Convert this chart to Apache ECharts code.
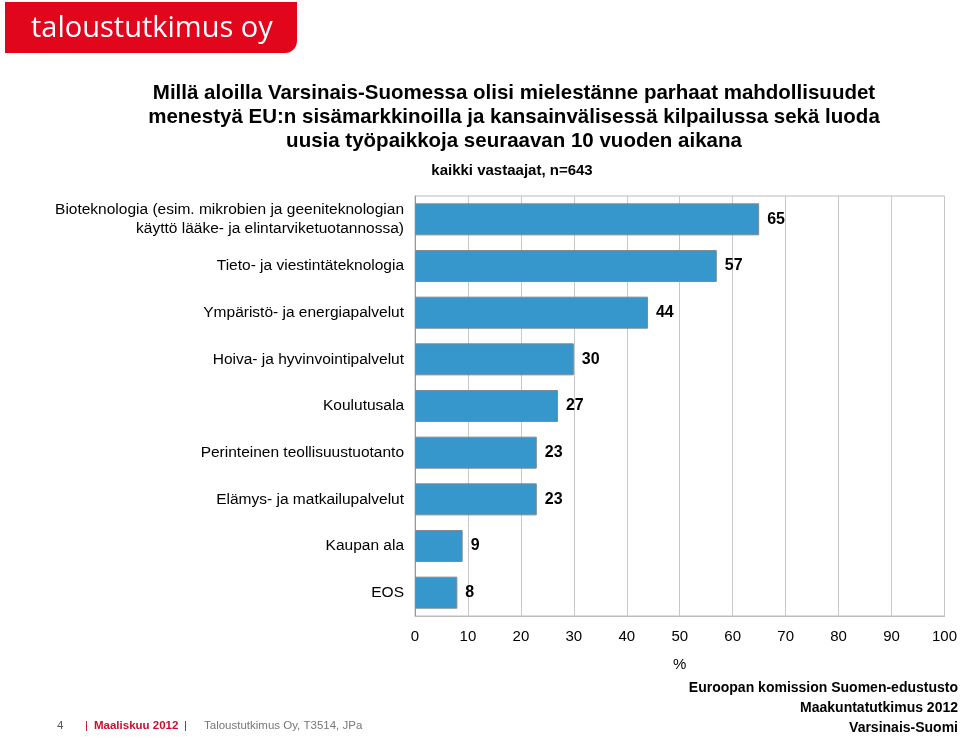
<!DOCTYPE html>
<html><head><meta charset="utf-8">
<script src="https://cdn.jsdelivr.net/npm/echarts@6/dist/echarts.min.js"></script>
<style>html,body{margin:0;padding:0;background:#fff}#c{width:960px;height:737px}</style>
</head><body><div id="c"></div>
<script>
var categories = [
  "Bioteknologia (esim. mikrobien ja geeniteknologian\nkäyttö lääke- ja elintarviketuotannossa)",
  "Tieto- ja viestintäteknologia",
  "Ympäristö- ja energiapalvelut",
  "Hoiva- ja hyvinvointipalvelut",
  "Koulutusala",
  "Perinteinen teollisuustuotanto",
  "Elämys- ja matkailupalvelut",
  "Kaupan ala",
  "EOS"
];
var values = [65, 57, 44, 30, 27, 23, 23, 9, 8];
var xTicks = [0, 10, 20, 30, 40, 50, 60, 70, 80, 90, 100];

var chart = echarts.init(document.getElementById('c'), null, {renderer: 'canvas'});
var F = 'Liberation Sans, Arial, sans-serif';
chart.setOption({
  animation: false,
  backgroundColor: '#fff',
  title: [{
    text: "Millä aloilla Varsinais-Suomessa olisi mielestänne parhaat mahdollisuudet\nmenestyä EU:n sisämarkkinoilla ja kansainvälisessä kilpailussa sekä luoda\nuusia työpaikkoja seuraavan 10 vuoden aikana",
    left: 509, top: 76, textAlign: 'center',
    textStyle: {fontFamily: F, fontSize: 20.5, fontWeight: 'bold', color: '#000', lineHeight: 24}
  }, {
    text: "kaikki vastaajat, n=643",
    left: 507, top: 158, textAlign: 'center',
    textStyle: {fontFamily: F, fontSize: 15, fontWeight: 'bold', color: '#000'}
  }],
  grid: {left: 415, top: 196, width: 530, height: 420, containLabel: false, show: true, borderColor: '#bbb', borderWidth: 1},
  xAxis: {
    type: 'value', min: 0, max: 100, interval: 10,
    name: '%', nameLocation: 'middle', nameGap: 41,
    nameTextStyle: {fontFamily: F, fontSize: 15, color: '#000'},
    axisLine: {show: true, lineStyle: {color: '#bbb'}},
    axisTick: {show: false},
    axisLabel: {fontFamily: F, fontSize: 15, color: '#000', margin: 13,
      formatter: function (v) { return xTicks.indexOf(v) >= 0 ? String(v) : ''; }},
    splitLine: {show: true, lineStyle: {color: '#c8c8c8', width: 1}}
  },
  yAxis: {
    type: 'category', data: categories, inverse: true,
    axisLine: {show: true, lineStyle: {color: '#999'}},
    axisTick: {show: false},
    axisLabel: {fontFamily: F, fontSize: 15.5, color: '#000', margin: 11, lineHeight: 19, align: 'right'}
  },
  series: [{
    type: 'bar', data: values, barWidth: 32,
    itemStyle: {color: '#3597cb', borderColor: '#7d8a94', borderWidth: 1},
    label: {show: true, position: 'right', distance: 8, fontFamily: F, fontSize: 16, fontWeight: 'bold', color: '#000'}
  }],
  graphic: [
    {type: 'rect', shape: {x: 5, y: 2, width: 292, height: 51, r: [0, 0, 12, 0]}, style: {fill: '#e2061d'}},
    {type: 'text', left: 31, top: 14, style: {text: 'taloustutkimus oy', fill: '#fff', font: '500 29px "Open Sans", sans-serif'}},
    {type: 'text', left: 57, top: 720, style: {text: '4', fill: '#555', font: '11.5px ' + F}},
    {type: 'text', left: 85, top: 720, style: {text: '|', fill: '#c8102e', font: '11.5px ' + F}},
    {type: 'text', left: 94, top: 720, style: {text: 'Maaliskuu 2012', fill: '#c8102e', font: 'bold 11.5px ' + F}},
    {type: 'text', left: 184, top: 720, style: {text: '|', fill: '#c8102e', font: '11.5px ' + F}},
    {type: 'text', left: 204, top: 720, style: {text: 'Taloustutkimus Oy, T3514, JPa', fill: '#777', font: '11.5px ' + F}},
    {type: 'text', right: 2, top: 681, style: {text: 'Euroopan komission Suomen-edustusto', fill: '#000', font: 'bold 14px ' + F, textAlign: 'right'}},
    {type: 'text', right: 2, top: 701, style: {text: 'Maakuntatutkimus 2012', fill: '#000', font: 'bold 14px ' + F, textAlign: 'right'}},
    {type: 'text', right: 2, top: 721, style: {text: 'Varsinais-Suomi', fill: '#000', font: 'bold 14px ' + F, textAlign: 'right'}}
  ]
});
</script></body></html>
